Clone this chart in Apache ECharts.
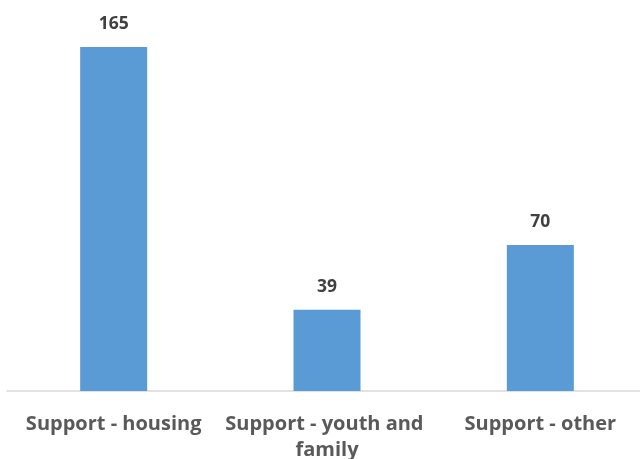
<!DOCTYPE html>
<html><head><meta charset="utf-8">
<script src="https://cdn.jsdelivr.net/npm/echarts@6/dist/echarts.min.js"></script>
<style>html,body{margin:0;padding:0;background:#fff}#c{width:640px;height:459px}</style>
</head><body><div id="c"></div>
<script>
const categories = ["Support - housing", "Support - youth and family", "Support - other"];
const values = [165, 39, 70];

const chart = echarts.init(document.getElementById('c'));
chart.setOption({
  animation: false,
  grid: { left: 7, right: -7, top: 15.7, height: 375.3, outerBoundsMode: 'none', containLabel: false },
  xAxis: {
    type: 'category', data: categories,
    axisLine: { lineStyle: { color: '#d9d9d9', width: 1.5 } },
    axisTick: { show: false },
    axisLabel: {
      interval: 0, margin: 20, color: '#595959', fontFamily: 'Open Sans', fontWeight: 'bold', fontSize: 20,
      width: 210, overflow: 'break', lineHeight: 26
    }
  },
  yAxis: { type: 'value', min: 0, max: 180, show: false, splitLine: { show: false } },
  series: [{
    type: 'bar', data: values, barWidth: 67,
    itemStyle: { color: '#5b9bd5' },
    label: { show: true, position: 'top', distance: 14, color: '#404040', fontFamily: 'Open Sans', fontWeight: 'bold', fontSize: 17.5 }
  }]
});
</script></body></html>
